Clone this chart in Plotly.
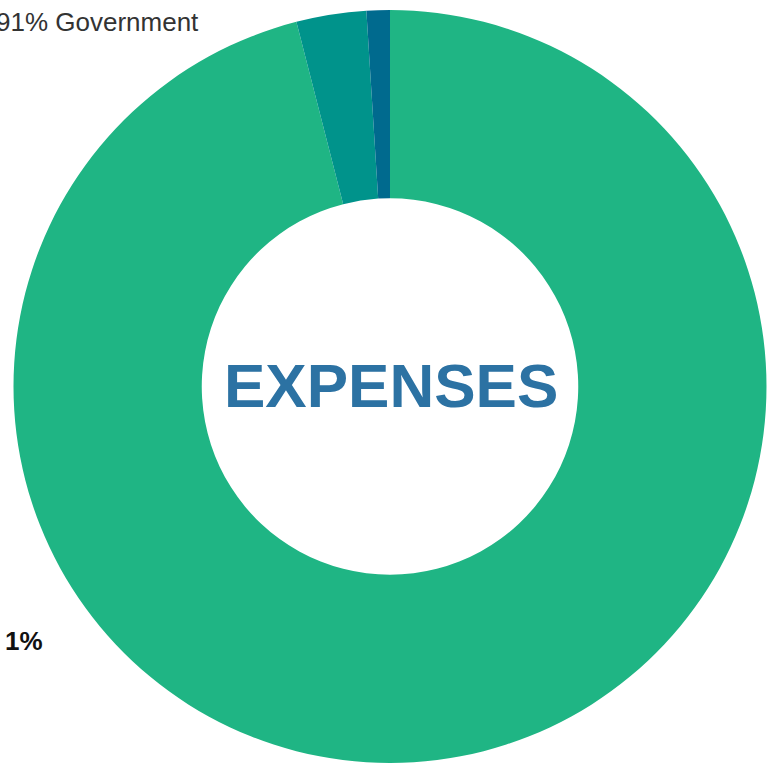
import plotly.graph_objects as go

categories = ["Government", "Other B", "Other A"]
values = [96, 3, 1]
colors = ["#1fb584", "#00938b", "#006a8e"]

W, H = 775, 765

fig = go.Figure(go.Pie(
    labels=categories,
    values=values,
    marker=dict(colors=colors, line=dict(width=0)),
    hole=0.5,
    sort=False,
    direction="clockwise",
    rotation=0,
    textinfo="none",
    hoverinfo="label+percent",
    domain=dict(x=[13 / W, 767 / W], y=[2 / H, 755 / H]),
    showlegend=False,
))

fig.add_annotation(
    text="EXPENSES", x=391 / W, y=1 - 385 / H, xref="paper", yref="paper",
    xanchor="center", yanchor="middle", showarrow=False,
    font=dict(family="Liberation Sans, Arial, sans-serif", size=62, color="#2c72a3", weight="bold"),
)
fig.add_annotation(
    text="91% Government", x=201 / W, y=1 - 22 / H, xref="paper", yref="paper",
    xanchor="right", yanchor="middle", showarrow=False,
    font=dict(family="Liberation Sans, Arial, sans-serif", size=26, color="#333333"),
)
fig.add_annotation(
    text="<b>1%</b>", x=45 / W, y=1 - 641 / H, xref="paper", yref="paper",
    xanchor="right", yanchor="middle", showarrow=False,
    font=dict(family="Liberation Sans, Arial, sans-serif", size=26, color="#111111"),
)

fig.update_layout(
    width=W, height=H,
    margin=dict(l=0, r=0, t=0, b=0),
    paper_bgcolor="white",
    plot_bgcolor="white",
)

fig.write_html(
    "out.html",
    config={"displayModeBar": False},
    post_script="document.body.style.margin='0';document.body.style.overflow='hidden';",
)
